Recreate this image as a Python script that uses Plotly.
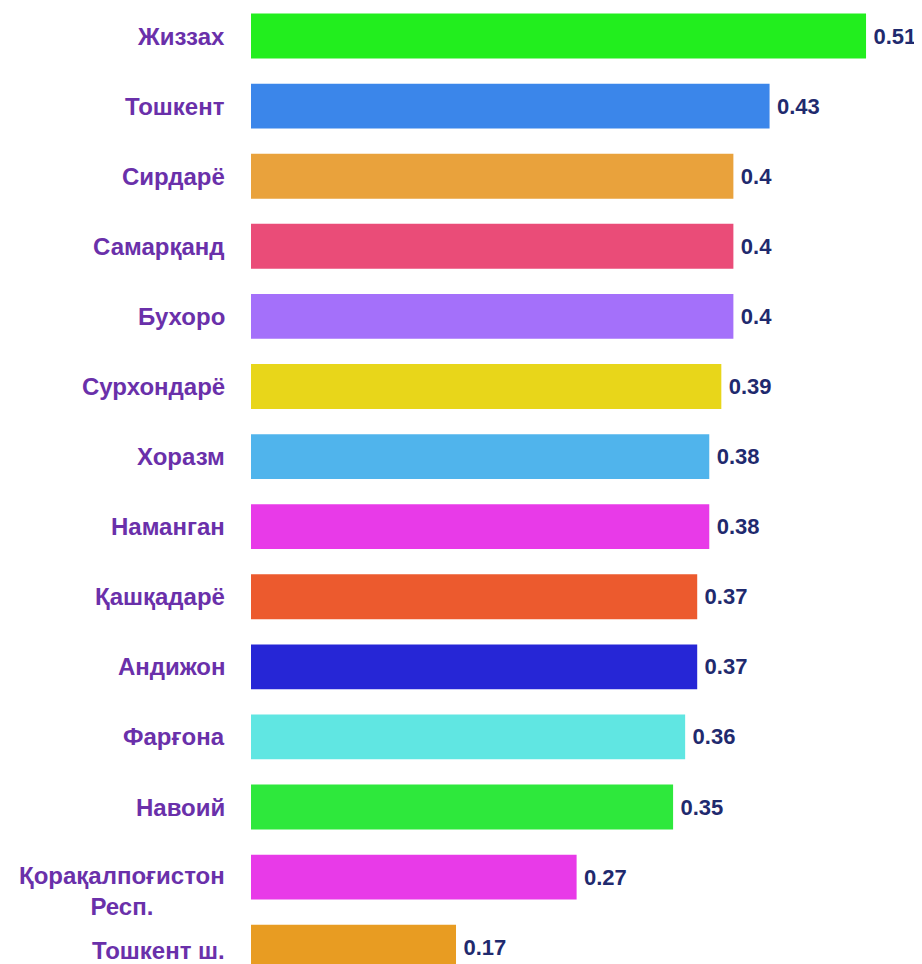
import plotly.graph_objects as go

regions = ["Жиззах", "Тошкент", "Сирдарё", "Самарқанд", "Бухоро", "Сурхондарё",
           "Хоразм", "Наманган", "Қашқадарё", "Андижон", "Фарғона", "Навоий",
           "Қорақалпоғистон<br>Респ.", "Тошкент ш."]
values = [0.51, 0.43, 0.40, 0.40, 0.40, 0.39, 0.38, 0.38, 0.37, 0.37, 0.36, 0.35, 0.27, 0.17]
colors = ["#22ee1e", "#3b86ea", "#e9a23c", "#ea4c78", "#a470fa", "#e8d61a",
          "#50b4ec", "#e83ae8", "#ec5a2e", "#2626d6", "#60e6e2", "#2ee83c",
          "#e83ae8", "#e89c22"]

ids = list(range(len(regions)))
FONT = "Liberation Sans, Arial, sans-serif"

fig = go.Figure(go.Bar(
    x=values, y=ids, orientation="h",
    marker=dict(color=colors, line=dict(width=0)),
    width=0.64,
    text=[f"<b>{v:g}</b>" for v in values],
    texttemplate="\u2009%{text}",
    textposition="outside",
    textfont=dict(family=FONT, size=22, color="#1f2a6e"),
    cliponaxis=False,
    hoverinfo="skip",
))

annotations = []
for i, r in zip(ids, regions):
    two = "<br>" in r
    annotations.append(dict(
        x=0, y=i, xref="x", yref="y", text=f"<b>{r}</b>", showarrow=False,
        xanchor="right", yanchor="middle", xshift=-24,
        yshift=-14 if two else (-3 if i == len(regions) - 1 else 0),
        align="center",
        font=dict(family=FONT, size=24, color="#6a30aa"),
    ))

fig.update_layout(
    width=914, height=956,
    margin=dict(l=243, r=0, t=0, b=0),
    paper_bgcolor="white", plot_bgcolor="white",
    showlegend=False,
    annotations=annotations,
    xaxis=dict(range=[0, 0.5564], visible=False),
    yaxis=dict(range=[13.24, -0.4], visible=False),
)
fig.write_html("out.html")
